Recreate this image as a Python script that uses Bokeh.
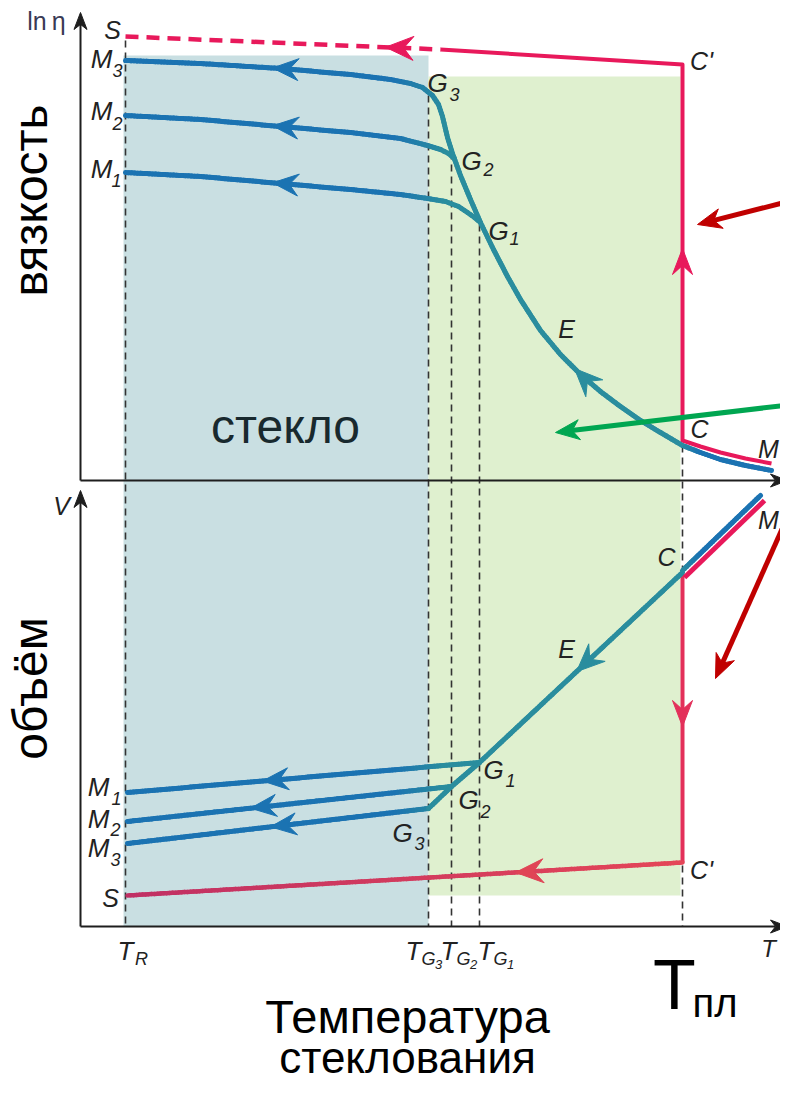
import numpy as np
from bokeh.plotting import figure
from bokeh.models import Range1d
from bokeh.embed import file_html
from bokeh.resources import INLINE
from bokeh.core.properties import value

# ---------------- DATA (schematic units: T grows to the right, ln(eta) and V grow upward) -------------
T_R, T_G3, T_G2, T_G1, T_PL, T_MAX = 125, 428, 451, 479, 682, 771

# upper panel: viscosity ln(eta)  (page-unit values, larger = lower on the page)
visc_M3_T = [125, 200, 280, 350, 390, 410, 422, 432, 438, 442]
visc_M3 = [60, 63, 68, 74, 79, 83, 87, 95, 104, 116]
visc_M2_T = [125, 200, 280, 350, 400, 427, 440, 448, 454]
visc_M2 = [115, 119, 126, 132, 138, 145, 149, 153, 158]
visc_M1_T = [125, 200, 280, 350, 400, 427, 445, 458, 467, 474, 480]
visc_M1 = [172, 176, 183, 189, 194, 198, 201, 206, 212, 217, 222]
visc_E_T = [442, 447, 452, 460, 470, 480, 493, 507, 520, 540, 560, 580, 600, 620, 640, 660, 682]
visc_E = [116, 137, 153, 175, 199, 222, 249, 276, 299, 330, 354, 374, 391, 406, 420, 432, 445]
visc_melt_T = [682, 700, 720, 745, 771]
visc_melt = [445, 452, 459, 465, 470]
visc_melt_red = [440, 446, 452, 458, 463]
visc_cryst_T = [125, 440, 682]
visc_cryst = [36, 49, 64]

# lower panel: volume V
vol_E_T = [682, 479, 451, 428]
vol_E = [572, 762, 786, 808]
vol_M1_T, vol_M1 = [127, 479], [792, 762]
vol_M2_T, vol_M2 = [127, 451], [821, 786]
vol_M3_T, vol_M3 = [127, 428], [843, 808]
vol_melt_T, vol_melt = [682, 760], [570, 495]
vol_melt_red_T, vol_melt_red = [684, 764], [577, 500]
vol_cryst_T, vol_cryst = [127, 682], [895, 862]
vol_C, vol_Cp = 572, 862

# panel frames
top_axis_y, bot_axis_y, axis_x = 480, 926, 80
glass_top, super_top, super_bottom = 55, 76, 895

tick_T = [T_R, T_G3, T_G2, T_G1]
tick_main = ["T", "T", "T", "T"]
tick_sub = ["R", "G", "G", "G"]
tick_subsub = ["", "3", "2", "1"]

# ---------------- STYLE ----------------
BLUE = (27, 115, 178)
TEAL = (42, 141, 158)
RED = "#e8195b"
DRED = "#c00000"
GREEN = "#00a651"
FONT = value("Liberation Sans")
LAB = "#222222"

p = figure(width=780, height=1087, x_range=Range1d(0, 780), y_range=Range1d(1087, 0),
           output_backend="svg", toolbar_location=None, x_axis_type=None, y_axis_type=None,
           min_border=0, outline_line_color=None, background_fill_color="white")
p.grid.visible = False


def hexc(c):
    return "#%02x%02x%02x" % tuple(int(round(v)) for v in c)


def mix(c0, c1, t):
    t = min(max(t, 0.0), 1.0)
    return tuple(a + (b - a) * t for a, b in zip(c0, c1))


def grad_line(xs, ys, c0, c1, xa, xb, width):
    X0, Y0, X1, Y1, C = [], [], [], [], []
    for i in range(len(xs) - 1):
        n = max(2, int(np.hypot(xs[i + 1] - xs[i], ys[i + 1] - ys[i]) / 3))
        for k in range(n):
            a, b = k / n, (k + 1) / n
            x0 = xs[i] + (xs[i + 1] - xs[i]) * a
            y0 = ys[i] + (ys[i + 1] - ys[i]) * a
            x1 = xs[i] + (xs[i + 1] - xs[i]) * b
            y1 = ys[i] + (ys[i + 1] - ys[i]) * b
            X0.append(x0); Y0.append(y0); X1.append(x1); Y1.append(y1)
            C.append(hexc(mix(c0, c1, ((x0 + x1) / 2 - xa) / (xb - xa))))
    p.segment(X0, Y0, X1, Y1, line_color=C, line_width=width, line_cap="round")


def head(tx, ty, dx, dy, L=24, W=20, notch=0.35):
    n = np.hypot(dx, dy)
    ux, uy = dx / n, dy / n
    px, py = -uy, ux
    bx, by = tx - ux * L, ty - uy * L
    nx, ny = tx - ux * L * (1 - notch), ty - uy * L * (1 - notch)
    return [tx, bx + px * W / 2, nx, bx - px * W / 2], [ty, by + py * W / 2, ny, by - py * W / 2]


def arrow_on(xs, ys, tip_x, color, L=26, W=22):
    order = np.argsort(xs)
    xa = np.array(xs, float)[order]
    ya = np.array(ys, float)[order]
    ty = np.interp(tip_x, xa, ya)
    ty2 = np.interp(tip_x + 6, xa, ya)
    hx, hy = head(tip_x, ty, -6, ty - ty2, L, W)
    p.patch(hx, hy, fill_color=color, line_color=color, line_width=1)


# ---------------- regions ----------------
p.quad(left=[T_R - 2], right=[T_G3], top=[glass_top], bottom=[bot_axis_y],
       fill_color="#c9dfe2", line_color=None)
p.quad(left=[T_G3], right=[T_PL - 2], top=[super_top], bottom=[super_bottom],
       fill_color="#dff0cf", line_color=None)

# dashed guides
for xg, y0 in [(T_R, 40), (T_G3, 95), (T_G2, 152), (T_G1, 224), (T_PL, 445)]:
    p.segment([xg], [y0], [xg], [bot_axis_y], line_color="#333333", line_width=1.6, line_dash="7 5")

# axes
p.segment([axis_x, axis_x, axis_x, axis_x], [top_axis_y, top_axis_y, bot_axis_y, bot_axis_y],
          [axis_x, 775, axis_x, 775], [22, top_axis_y, 500, bot_axis_y],
          line_color="#1e1e1e", line_width=2)
for (tx, ty, dx, dy) in [(axis_x, 12, 0, -1), (787, top_axis_y, 1, 0), (axis_x, 490, 0, -1), (787, bot_axis_y, 1, 0)]:
    hx, hy = head(tx, ty, dx, dy, L=17, W=13, notch=0.3)
    p.patch(hx, hy, fill_color="#1e1e1e", line_color="#1e1e1e")

# ---------------- upper panel curves ----------------
p.line(visc_cryst_T[:2], visc_cryst[:2], line_color=RED, line_width=4.5, line_dash="13 8")
p.line(visc_cryst_T[1:] + [T_PL] + visc_melt_T[1:],
       visc_cryst[1:] + visc_melt_red[:1] + visc_melt_red[1:],
       line_color=RED, line_width=4, line_join="round")
for xs, ys in [(visc_M3_T, visc_M3), (visc_M2_T, visc_M2), (visc_M1_T, visc_M1)]:
    grad_line(xs, ys, BLUE, TEAL, 395, 445, 5)
grad_line(visc_E_T, visc_E, TEAL, TEAL, 0, 1, 5)
grad_line(visc_melt_T, visc_melt, TEAL, BLUE, 682, 700, 5)

arrow_on(visc_cryst_T, visc_cryst, 385, RED, L=28, W=24)
for xs, ys in [(visc_M3_T, visc_M3), (visc_M2_T, visc_M2), (visc_M1_T, visc_M1)]:
    arrow_on(xs, ys, 272, hexc(BLUE), L=26, W=22)
arrow_on(visc_E_T, visc_E, 574, hexc(TEAL), L=28, W=24)
hx, hy = head(T_PL, 248, 0, -1, L=26, W=20)
p.patch(hx, hy, fill_color=RED, line_color=RED)

# ---------------- lower panel curves ----------------
p.line([T_PL, T_PL], [vol_C, vol_Cp], line_color="#e3305a", line_width=4)
grad_line(vol_cryst_T, vol_cryst, (192, 48, 100), (228, 70, 88), 127, 682, 4.5)
p.line(vol_melt_red_T, vol_melt_red, line_color=RED, line_width=5)
grad_line(vol_melt_T, vol_melt, TEAL, BLUE, 682, 700, 5)
for xs, ys in [(vol_M1_T, vol_M1), (vol_M2_T, vol_M2), (vol_M3_T, vol_M3)]:
    grad_line(xs, ys, BLUE, TEAL, 395, 445, 5)
grad_line(vol_E_T, vol_E, TEAL, TEAL, 0, 1, 5)

arrow_on(vol_cryst_T, vol_cryst, 515, "#e04456", L=28, W=24)
arrow_on(vol_M1_T, vol_M1, 262, hexc(BLUE))
arrow_on(vol_M2_T, vol_M2, 250, hexc(BLUE))
arrow_on(vol_M3_T, vol_M3, 270, hexc(BLUE))
hx, hy = head(576, np.interp(576, vol_E_T[1::-1], vol_E[1::-1]), -(vol_E_T[0] - vol_E_T[1]),
              -(vol_E[0] - vol_E[1]), L=28, W=24)
p.patch(hx, hy, fill_color=hexc(TEAL), line_color=hexc(TEAL))
hx, hy = head(T_PL, 726, 0, 1, L=26, W=20)
p.patch(hx, hy, fill_color="#e3305a", line_color="#e3305a")

# pointer arrows
for (x0, y0, x1, y1, col) in [(792, 200, 697, 224, DRED), (792, 404, 555, 432, GREEN), (792, 505, 715, 678, DRED)]:
    dx, dy = x1 - x0, y1 - y0
    n = np.hypot(dx, dy)
    p.line([x0, x1 - dx / n * 14], [y0, y1 - dy / n * 14], line_color=col, line_width=5)
    hx, hy = head(x1, y1, dx, dy, L=24, W=20, notch=0.3)
    p.patch(hx, hy, fill_color=col, line_color=col)


# ---------------- labels ----------------
def lab(xs, ys, texts, size, italic=True, color=LAB, align="center", baseline="middle", angle=0):
    p.text(x=xs, y=ys, text=texts, text_font=FONT, text_font_size=size,
           text_font_style="italic" if italic else "normal", text_color=color,
           text_align=align, text_baseline=baseline, angle=angle)


lab([46], [20], ["ln\u2009η"], "25px", italic=False, color="#3a3a55")
lab([112, 110, 61], [29, 897, 505], ["S", "S", "V"], "25px")
lab([101, 101, 101, 98, 98, 98], [58, 110, 168, 786, 818, 847], ["M"] * 6, "26px")
lab([117, 117, 116, 116, 115, 115], [70, 123, 180, 798, 829, 859], ["3", "2", "1", "1", "2", "3"], "18px")
lab([437, 471, 498, 493, 468, 402], [82, 160, 230, 769, 799, 832], ["G"] * 6, "26px")
lab([454, 488, 514, 510, 485, 419], [94, 169, 238, 780, 811, 843], ["3", "2", "1", "1", "2", "3"], "18px")
lab([566, 566], [328, 648], ["E", "E"], "25px")
lab([701, 699, 666, 701], [60, 428, 556, 869], ["C'", "C", "C", "C'"], "25px")
lab([768, 768], [448, 519], ["M", "M"], "25px")
lab([768], [948], ["T"], "24px")

tx_main = [T_R, T_G3 - 15, T_G2 - 3, T_G1 + 6]
lab(tx_main, [950] * 4, tick_main, "26px")
lab([tx_main[0] + 16] + [x + 15 for x in tx_main[1:]], [958] * 4, tick_sub, "18px")
lab([x + 25 for x in tx_main[1:]], [964] * 3, tick_subsub[1:], "13px")

lab([285], [426], ["стекло"], "48px", italic=False, color="#18292e")
lab([30], [200], ["вязкость"], "48px", italic=False, color="black", angle=np.pi / 2)
lab([30], [688], ["объём"], "48px", italic=False, color="black", angle=np.pi / 2)
lab([407], [1016], ["Температура"], "47px", italic=False, color="black")
lab([407], [1057], ["стеклования"], "44px", italic=False, color="black")
lab([674], [984], ["T"], "70px", italic=False, color="black")
lab([692], [1002], ["пл"], "40px", italic=False, color="black", align="left")

open("out.html", "w").write(file_html(p, INLINE))
